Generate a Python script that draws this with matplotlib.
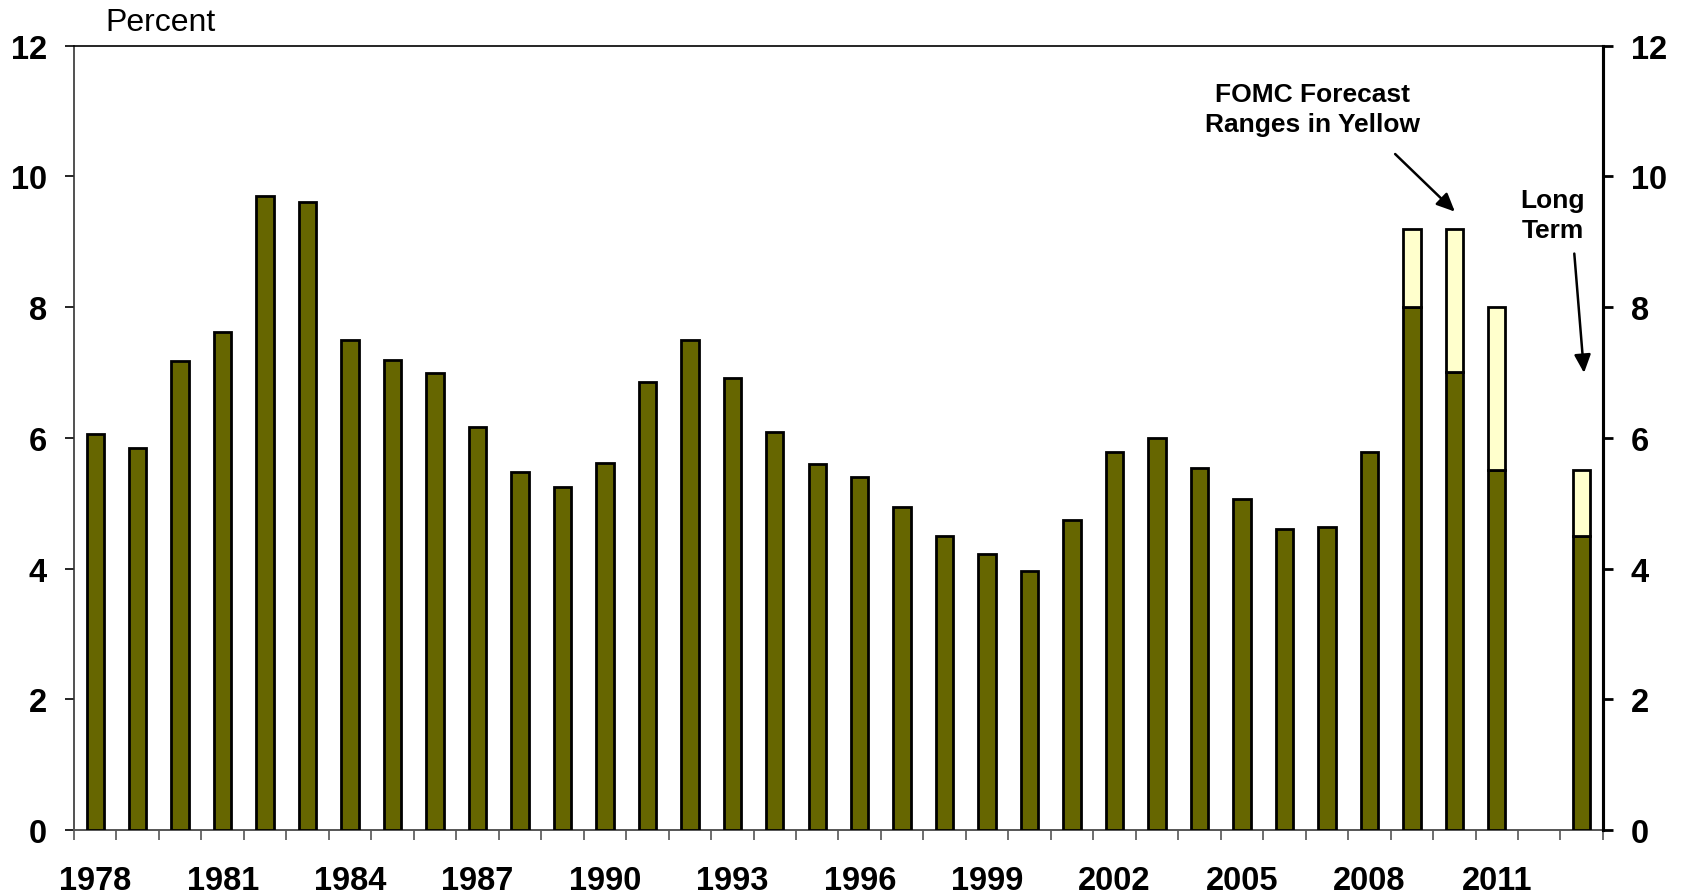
import numpy as np
import matplotlib
matplotlib.use("Agg")
import matplotlib.pyplot as plt

plt.rcParams['font.family'] = ['Liberation Sans', 'DejaVu Sans']

years = list(range(1978, 2012)) + ["", "Long Term"]
actual = [6.06, 5.84, 7.17, 7.62, 9.70, 9.60, 7.50, 7.19, 6.99, 6.17,
          5.48, 5.25, 5.61, 6.86, 7.49, 6.91, 6.09, 5.60, 5.40, 4.94,
          4.50, 4.22, 3.96, 4.74, 5.78, 5.99, 5.53, 5.06, 4.60, 4.63,
          5.79]
# forecast ranges: (low, high) for 2009, 2010, 2011, long term
fc_index = [31, 32, 33, 35]
fc_low = [8.0, 7.0, 5.5, 4.5]
fc_high = [9.2, 9.2, 8.0, 5.5]
tick_years = [1978, 1981, 1984, 1987, 1990, 1993, 1996, 1999, 2002, 2005, 2008, 2011]

olive = "#666600"
yellow = "#FFFFCC"

fig = plt.figure(figsize=(16.82, 8.95), dpi=100)
ax = fig.add_axes([0.0440, 0.0715, 0.9090, 0.8765])

x_act = np.arange(len(actual))
bw = 0.41
ax.bar(x_act, actual, width=bw, color=olive, edgecolor="black", linewidth=2, zorder=3)
ax.bar(fc_index, fc_low, width=bw, color=olive, edgecolor="black", linewidth=2, zorder=3)
ax.bar(fc_index, np.array(fc_high) - np.array(fc_low), bottom=fc_low, width=bw,
       color=yellow, edgecolor="black", linewidth=2, zorder=3)

ax.set_xlim(-0.5, 35.5)
ax.set_ylim(0, 12)
ax.set_yticks(range(0, 13, 2))
ax.set_yticklabels([str(v) for v in range(0, 13, 2)], fontsize=23.5, fontweight="bold")
ax.tick_params(axis="y", direction="out", length=6.5, width=1.2, pad=13, colors="black")

ax.set_xticks(np.arange(-0.5, 36, 1))
ax.set_xticklabels([])
ax.tick_params(axis="x", which="major", direction="out", length=7, width=1.2, color="#555555")
ax.set_xticks([tick_years.index(y) * 3 for y in tick_years], minor=True)
ax.set_xticklabels([str(y) for y in tick_years], minor=True, fontsize=23.5, fontweight="bold")
ax.tick_params(axis="x", which="minor", length=0, pad=25)

ax.spines["left"].set_color("#333333")
ax.spines["left"].set_linewidth(1.2)
ax.spines["bottom"].set_color("#555555")
ax.spines["bottom"].set_linewidth(1.4)
ax.spines["top"].set_color("black")
ax.spines["top"].set_linewidth(1.2)
ax.spines["right"].set_color("black")
ax.spines["right"].set_linewidth(2.2)

ax2 = ax.twinx()
ax2.set_ylim(0, 12)
ax2.set_yticks(range(0, 13, 2))
ax2.set_yticklabels([str(v) for v in range(0, 13, 2)], fontsize=23.5, fontweight="bold")
ax2.tick_params(axis="y", direction="out", length=7, width=2, pad=13)
for s in ["left", "bottom", "top"]:
    ax2.spines[s].set_visible(False)
ax2.spines["right"].set_linewidth(2.2)

fig.text(105 / 1682, 1 - 23 / 895, "Percent", fontsize=23, ha="left", va="center")

ax.text(28.65, 11.03, "FOMC Forecast\nRanges in Yellow", fontsize=19, fontweight="bold",
        ha="center", va="center", linespacing=1.3)
ax.annotate("", xy=(32.06, 9.43), xytext=(30.56, 10.37),
            arrowprops=dict(arrowstyle="-|>,head_length=1.1,head_width=0.5", color="black", lw=1.8))
ax.text(34.32, 9.41, "Long\nTerm", fontsize=19, fontweight="bold",
        ha="center", va="center", linespacing=1.3)
ax.annotate("", xy=(35.06, 6.95), xytext=(34.82, 8.86),
            arrowprops=dict(arrowstyle="-|>,head_length=1.1,head_width=0.5", color="black", lw=1.8))

fig.savefig("out.png", dpi=100)
